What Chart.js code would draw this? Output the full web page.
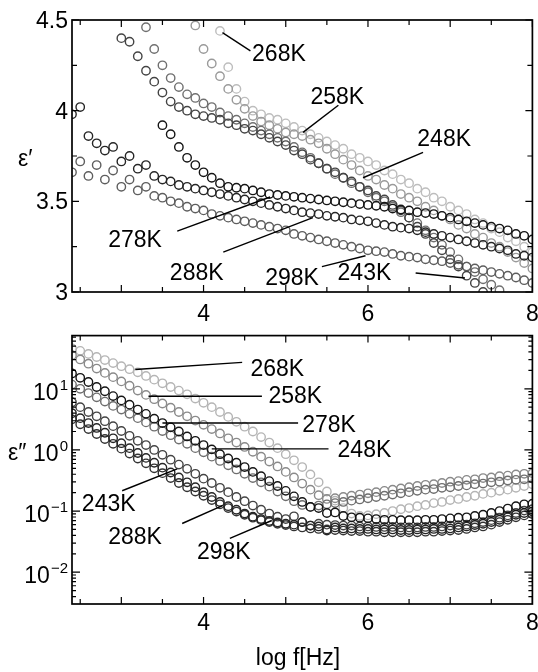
<!DOCTYPE html>
<html>
<head>
<meta charset="utf-8">
<script src="https://cdn.jsdelivr.net/npm/chart.js@4.4.1/dist/chart.umd.min.js"></script>
<style>
  html, body { margin: 0; padding: 0; background: #fff; }
  #wrap { position: relative; width: 538px; height: 672px; }
  canvas { position: absolute; left: 0; }
  #top { top: 0; }
  #bottom { top: 330px; }
</style>
</head>
<body>
<div id="wrap">
  <canvas id="top" width="538" height="330" style="width:538px;height:330px"></canvas>
  <canvas id="bottom" width="538" height="342" style="width:538px;height:342px"></canvas>
</div>
<script>
// log f [Hz], shared by every series
const logF = [
  2.4, 2.5, 2.6, 2.7, 2.8, 2.9, 3.0, 3.1, 3.2, 3.3,
  3.4, 3.5, 3.6, 3.7, 3.8, 3.9, 4.0, 4.1, 4.2, 4.3,
  4.4, 4.5, 4.6, 4.7, 4.8, 4.9, 5.0, 5.1, 5.2, 5.3,
  5.4, 5.5, 5.6, 5.7, 5.8, 5.9, 6.0, 6.1, 6.2, 6.3,
  6.4, 6.5, 6.6, 6.7, 6.8, 6.9, 7.0, 7.1, 7.2, 7.3,
  7.4, 7.5, 7.6, 7.7, 7.8, 7.9, 8.0
];

// eps' (top panel), null = off the plotted range
const real268 = [
  null, null, null, null, null, null, null, null, null, null,
  null, null, null, null, null, null, null, null, 4.44, 4.24,
  4.12, 4.05, 4.00, 3.98, 3.96, 3.95, 3.93, 3.91, 3.89, 3.87,
  3.85, 3.83, 3.81, 3.79, 3.76, 3.74, 3.72, 3.70, 3.67, 3.65,
  3.62, 3.60, 3.57, 3.55, 3.52, 3.50, 3.47, 3.45, 3.43, 3.40,
  3.38, 3.35, 3.33, 3.30, 3.28, 3.25, 3.22
];
const real258 = [
  null, null, null, null, null, null, null, null, null, null,
  null, null, null, null, null, 4.47, 4.34, 4.26, 4.19, 4.12,
  4.06, 4.01, 3.97, 3.94, 3.92, 3.90, 3.88, 3.87, 3.86, 3.84,
  3.82, 3.79, 3.76, 3.73, 3.70, 3.67, 3.64, 3.62, 3.59, 3.57,
  3.54, 3.52, 3.50, 3.47, 3.45, 3.42, 3.40, 3.37, 3.35, 3.32,
  3.30, 3.27, 3.25, 3.22, 3.19, 3.16, 3.13
];
const real248 = [
  null, null, null, null, null, null, null, null, null, 4.46,
  4.34, 4.25, 4.18, 4.13, 4.09, 4.07, 4.04, 4.02, 3.99, 3.97,
  3.95, 3.93, 3.91, 3.89, 3.87, 3.85, 3.83, 3.80, 3.77, 3.74,
  3.71, 3.68, 3.65, 3.63, 3.60, 3.58, 3.55, 3.52, 3.50, 3.47,
  3.44, 3.41, 3.38, 3.34, 3.30, 3.26, 3.22, 3.18, 3.14, 3.11,
  3.07, 3.04, 3.01, null, null, null, null
];
const real243 = [
  null, null, null, null, null, null, 4.40, 4.38, 4.30, 4.22,
  4.16, 4.10, 4.05, 4.02, 4.00, 3.98, 3.97, 3.96, 3.95, 3.93,
  3.92, 3.90, 3.89, 3.87, 3.85, 3.83, 3.81, 3.78, 3.76, 3.73,
  3.71, 3.68, 3.66, 3.63, 3.61, 3.58, 3.56, 3.53, 3.51, 3.48,
  3.45, 3.41, 3.36, 3.32, 3.27, 3.23, 3.18, 3.14, 3.09, 3.05,
  3.00, null, null, null, null, null, null
];
const real278 = [
  null, null, null, null, null, null, null, null, null, null,
  null, 3.92, 3.87, 3.80, 3.74, 3.70, 3.66, 3.63, 3.60, 3.58,
  3.575, 3.57, 3.56, 3.55, 3.54, 3.535, 3.53, 3.525, 3.52, 3.515,
  3.51, 3.505, 3.50, 3.495, 3.49, 3.485, 3.48, 3.475, 3.47, 3.46,
  3.455, 3.45, 3.44, 3.435, 3.43, 3.42, 3.41, 3.40, 3.39, 3.38,
  3.37, 3.36, 3.35, 3.34, 3.32, 3.31, 3.29
];
const real288 = [
  3.98, 4.02, 3.86, 3.82, 3.78, 3.80, 3.72, 3.75, 3.68, 3.70,
  3.64, 3.62, 3.61, 3.59, 3.58, 3.57, 3.56, 3.55, 3.54, 3.53,
  3.52, 3.51, 3.50, 3.49, 3.48, 3.47, 3.46, 3.45, 3.44, 3.435,
  3.43, 3.42, 3.415, 3.41, 3.40, 3.395, 3.39, 3.38, 3.37, 3.36,
  3.355, 3.35, 3.34, 3.33, 3.32, 3.31, 3.30, 3.29, 3.28, 3.27,
  3.26, 3.25, 3.24, 3.23, 3.21, 3.20, 3.19
];
const real298 = [
  3.66, 3.72, 3.64, 3.70, 3.62, 3.67, 3.58, 3.62, 3.56, 3.58,
  3.53, 3.52, 3.50, 3.49, 3.47, 3.46, 3.45, 3.43, 3.42, 3.41,
  3.40, 3.39, 3.38, 3.37, 3.36, 3.35, 3.34, 3.32, 3.31, 3.30,
  3.29, 3.28, 3.27, 3.26, 3.25, 3.24, 3.23, 3.225, 3.22, 3.21,
  3.20, 3.195, 3.19, 3.18, 3.175, 3.17, 3.16, 3.15, 3.14, 3.13,
  3.12, 3.11, 3.10, 3.09, 3.08, 3.065, 3.05
];

// eps'' (bottom panel, log axis)
const loss268 = [
  45.7, 41.7, 37.2, 33.1, 29.5, 26.3, 23.4, 20.9, 18.6, 16.2,
  14.1, 12.3, 10.7, 9.33, 8.13, 6.92, 5.89, 5.01, 4.17, 3.47,
  2.88, 2.40, 2.00, 1.62, 1.32, 1.07, 0.851, 0.676, 0.525, 0.398,
  0.295, 0.209, 0.148, 0.112, 0.091, 0.083, 0.085, 0.089, 0.093, 0.100,
  0.107, 0.112, 0.120, 0.126, 0.135, 0.141, 0.151, 0.158, 0.170, 0.178,
  0.191, 0.200, 0.214, 0.224, 0.240, 0.257, 0.275
];
const loss258 = [
  35.5, 30.2, 25.7, 21.4, 18.2, 15.5, 13.2, 11.2, 9.33, 7.94,
  6.76, 5.75, 4.90, 4.17, 3.55, 3.02, 2.57, 2.19, 1.86, 1.55,
  1.32, 1.12, 0.933, 0.776, 0.646, 0.537, 0.437, 0.355, 0.282, 0.224,
  0.182, 0.158, 0.162, 0.170, 0.178, 0.186, 0.195, 0.204, 0.214, 0.224,
  0.234, 0.245, 0.257, 0.269, 0.275, 0.288, 0.302, 0.309, 0.324, 0.331,
  0.347, 0.355, 0.372, 0.380, 0.398, 0.407, 0.417
];
const loss278 = [
  17.8, 15.1, 12.9, 10.7, 9.12, 7.59, 6.46, 5.50, 4.57, 3.89,
  3.24, 2.75, 2.34, 2.00, 1.66, 1.41, 1.20, 1.02, 0.851, 0.724,
  0.617, 0.525, 0.437, 0.372, 0.309, 0.257, 0.214, 0.174, 0.141, 0.117,
  0.112, 0.093, 0.095, 0.083, 0.079, 0.078, 0.076, 0.074, 0.072, 0.072,
  0.071, 0.071, 0.071, 0.072, 0.072, 0.074, 0.076, 0.078, 0.079, 0.083,
  0.087, 0.093, 0.100, 0.110, 0.120, 0.129, 0.132
];
const loss248 = [
  11.7, 10.0, 8.51, 7.24, 6.17, 5.25, 4.57, 3.89, 3.31, 2.82,
  2.40, 2.04, 1.74, 1.48, 1.26, 1.07, 0.912, 0.776, 0.661, 0.562,
  0.479, 0.407, 0.347, 0.295, 0.251, 0.209, 0.174, 0.145, 0.126, 0.117,
  0.123, 0.129, 0.135, 0.141, 0.148, 0.155, 0.162, 0.170, 0.178, 0.186,
  0.195, 0.204, 0.214, 0.224, 0.229, 0.240, 0.245, 0.257, 0.263, 0.275,
  0.282, 0.295, 0.302, 0.316, 0.324, 0.331, 0.339
];
const loss243 = [
  6.03, 5.01, 4.17, 3.55, 2.95, 2.45, 2.04, 1.70, 1.41, 1.20,
  1.00, 0.832, 0.692, 0.575, 0.490, 0.407, 0.339, 0.288, 0.240, 0.204,
  0.170, 0.145, 0.123, 0.105, 0.091, 0.081, 0.074, 0.082, 0.066, 0.058,
  0.062, 0.060, 0.059, 0.058, 0.058, 0.056, 0.056, 0.055, 0.055, 0.055,
  0.054, 0.054, 0.054, 0.055, 0.055, 0.056, 0.058, 0.059, 0.060, 0.063,
  0.066, 0.071, 0.078, 0.085, 0.093, 0.102, 0.107
];
const loss288 = [
  3.98, 3.31, 2.75, 2.29, 1.91, 1.55, 1.29, 1.07, 0.891, 0.741,
  0.617, 0.513, 0.427, 0.355, 0.295, 0.245, 0.204, 0.170, 0.141, 0.120,
  0.105, 0.091, 0.081, 0.074, 0.069, 0.065, 0.062, 0.060, 0.066, 0.058,
  0.056, 0.048, 0.054, 0.052, 0.052, 0.051, 0.051, 0.050, 0.050, 0.050,
  0.049, 0.049, 0.050, 0.050, 0.051, 0.051, 0.052, 0.054, 0.056, 0.059,
  0.062, 0.066, 0.072, 0.079, 0.087, 0.093, 0.098
];
const loss298 = [
  3.16, 2.63, 2.19, 1.82, 1.51, 1.26, 1.05, 0.871, 0.724, 0.603,
  0.501, 0.417, 0.347, 0.288, 0.245, 0.209, 0.178, 0.151, 0.129, 0.112,
  0.098, 0.087, 0.078, 0.071, 0.066, 0.062, 0.059, 0.056, 0.054, 0.052,
  0.051, 0.050, 0.049, 0.048, 0.047, 0.047, 0.046, 0.046, 0.045, 0.045,
  0.045, 0.045, 0.045, 0.046, 0.046, 0.047, 0.048, 0.049, 0.051, 0.054,
  0.056, 0.060, 0.066, 0.072, 0.079, 0.085, 0.089
];

// axis labels
const realTickVals = [3, 3.5, 4, 4.5];
const realTickText = ['3', '3.5', '4', '4.5'];
const lossDecades = [0.01, 0.1, 1, 10];
const lossExp = ['\u22122', '\u22121', '0', '1'];
const freqTickVals = [4, 6, 8];

// leader labels: [text, textX, textY, lineX1, lineY1, lineX2, lineY2] in data units
const realNotes = [
  ['268K', 4.59, 4.32, 4.23, 4.43, 4.57, 4.33],
  ['258K', 5.30, 4.08, 5.64, 4.03, 5.21, 3.88],
  ['248K', 6.60, 3.85, 6.67, 3.77, 5.94, 3.63],
  ['278K', 2.84, 3.29, 3.68, 3.336, 4.81, 3.524],
  ['288K', 3.59, 3.11, 4.24, 3.22, 5.33, 3.41],
  ['298K', 4.75, 3.08, 5.44, 3.14, 5.97, 3.20],
  ['243K', 5.63, 3.11, 6.58, 3.105, 7.18, 3.077]
];
const lossNotes = [
  ['268K', 4.57, 21.5, 3.17, 20.7, 4.47, 27.0],
  ['258K', 4.79, 7.84, 3.33, 7.55, 4.71, 7.55],
  ['278K', 5.20, 2.65, 3.50, 2.75, 5.15, 2.75],
  ['248K', 5.63, 1.04, 4.10, 1.04, 5.52, 1.04],
  ['243K', 2.52, 0.137, 3.01, 0.215, 3.68, 0.491],
  ['288K', 2.84, 0.0385, 3.74, 0.0626, 4.23, 0.123],
  ['298K', 3.92, 0.0219, 4.32, 0.0357, 4.83, 0.0701]
];

const FONT = '"Liberation Sans", Arial, Helvetica, sans-serif';
const FS = 23;

function pts(ys) {
  return logF.map((x, i) => ({ x: x, y: ys[i] })).filter(p => p.y !== null);
}

function makeSets(list) {
  return list.map(s => ({
    label: s[0],
    data: pts(s[1]),
    showLine: false,
    pointStyle: 'circle',
    pointRadius: 4.2,
    pointBorderWidth: 1.4,
    pointBorderColor: s[2],
    pointBackgroundColor: 'rgba(0,0,0,0)'
  }));
}

function framePlugin(opt) {
  return {
    id: 'frame',
    afterDraw(chart) {
      const ctx = chart.ctx;
      const a = chart.chartArea;
      const xs = chart.scales.x;
      const ys = chart.scales.y;
      ctx.save();
      ctx.strokeStyle = '#000';
      ctx.fillStyle = '#000';

      // inward ticks on all four sides
      ctx.lineWidth = 1.2;
      ctx.beginPath();
      for (let v = 2.5; v <= 8.001; v += 0.5) {
        const px = xs.getPixelForValue(v);
        const len = Math.abs(v - Math.round(v)) < 0.01 ? 7 : 5;
        ctx.moveTo(px, a.bottom); ctx.lineTo(px, a.bottom - len);
        ctx.moveTo(px, a.top); ctx.lineTo(px, a.top + len);
      }
      opt.yTicks(ys).forEach(t => {
        const py = ys.getPixelForValue(t[0]);
        ctx.moveTo(a.left, py); ctx.lineTo(a.left + t[1], py);
        ctx.moveTo(a.right, py); ctx.lineTo(a.right - t[1], py);
      });
      ctx.stroke();

      ctx.lineWidth = 1.7;
      ctx.strokeRect(a.left, a.top, a.right - a.left, a.bottom - a.top);

      // x tick labels
      ctx.font = FS + 'px ' + FONT;
      ctx.textAlign = 'center';
      ctx.textBaseline = 'alphabetic';
      freqTickVals.forEach(v => {
        ctx.fillText(String(v), xs.getPixelForValue(v), a.bottom + opt.xLabelGap);
      });

      // y tick labels
      opt.yLabels(ctx, ys, a);

      // y title (horizontal)
      ctx.font = FS + 'px ' + FONT;
      ctx.textAlign = 'left';
      ctx.fillText(opt.yTitle, opt.yTitlePos[0], opt.yTitlePos[1]);

      if (opt.xTitle) {
        ctx.textAlign = 'center';
        ctx.fillText(opt.xTitle, opt.xTitlePos[0], opt.xTitlePos[1]);
      }

      // temperature labels with leader lines
      ctx.lineWidth = 1.4;
      ctx.textAlign = 'left';
      opt.notes.forEach(n => {
        ctx.beginPath();
        ctx.moveTo(xs.getPixelForValue(n[3]), ys.getPixelForValue(n[4]));
        ctx.lineTo(xs.getPixelForValue(n[5]), ys.getPixelForValue(n[6]));
        ctx.stroke();
        ctx.fillText(n[0], xs.getPixelForValue(n[1]), ys.getPixelForValue(n[2]) + 8);
      });
      ctx.restore();
    }
  };
}

function baseOptions(yScale, xHeight, padTop) {
  return {
    responsive: false,
    animation: false,
    devicePixelRatio: 1,
    events: [],
    layout: { padding: { top: padTop, right: 5, left: 0, bottom: 0 } },
    plugins: { legend: { display: false }, tooltip: { enabled: false } },
    scales: {
      x: {
        type: 'linear', min: 2.4, max: 8, bounds: 'data',
        grid: { display: false }, border: { display: false },
        ticks: { display: false },
        afterFit: s => { s.height = xHeight; }
      },
      y: Object.assign({
        grid: { display: false }, border: { display: false },
        ticks: { display: false },
        afterFit: s => { s.width = 72; }
      }, yScale)
    }
  };
}

// top panel: eps'
new Chart(document.getElementById('top'), {
  type: 'scatter',
  data: {
    datasets: makeSets([
      ['278K', real278, '#151515'],
      ['288K', real288, '#262626'],
      ['243K', real243, '#444444'],
      ['298K', real298, '#5e5e5e'],
      ['248K', real248, '#707070'],
      ['258K', real258, '#9a9a9a'],
      ['268K', real268, '#bdbdbd']
    ])
  },
  options: baseOptions({ type: 'linear', min: 3, max: 4.5, bounds: 'data' }, 38, 20),
  plugins: [framePlugin({
    xLabelGap: 29,
    yTitle: '\u03b5\u2032',
    yTitlePos: [18, 166],
    notes: realNotes,
    yTicks: () => {
      const out = [];
      for (let v = 3; v <= 4.501; v += 0.25) out.push([v, Math.abs(v * 2 - Math.round(v * 2)) < 0.01 ? 7 : 5]);
      return out;
    },
    yLabels: (ctx, ys, a) => {
      ctx.textAlign = 'right';
      realTickVals.forEach((v, i) => {
        ctx.fillText(realTickText[i], a.left - 4, ys.getPixelForValue(v) + 8);
      });
    }
  })]
});

// bottom panel: eps''
new Chart(document.getElementById('bottom'), {
  type: 'scatter',
  data: {
    datasets: makeSets([
      ['278K', loss278, '#151515'],
      ['288K', loss288, '#262626'],
      ['298K', loss298, '#333333'],
      ['243K', loss243, '#444444'],
      ['248K', loss248, '#6e6e6e'],
      ['258K', loss258, '#8a8a8a'],
      ['268K', loss268, '#b5b5b5']
    ])
  },
  options: baseOptions({ type: 'logarithmic', min: 0.00302, max: 74.1, bounds: 'data' }, 68, 4),
  plugins: [framePlugin({
    xLabelGap: 26,
    yTitle: '\u03b5\u2033',
    yTitlePos: [8, 130],
    xTitle: 'log f[Hz]',
    xTitlePos: [298, 335],
    notes: lossNotes,
    yTicks: ys => {
      const out = [];
      for (let d = -3; d <= 1; d++) {
        for (let m = 1; m <= 9; m++) {
          const v = m * Math.pow(10, d);
          if (v >= ys.min && v <= ys.max) out.push([v, m === 1 ? 8 : 4]);
        }
      }
      return out;
    },
    yLabels: (ctx, ys, a) => {
      lossDecades.forEach((v, i) => {
        const py = ys.getPixelForValue(v);
        ctx.font = '15px ' + FONT;
        ctx.textAlign = 'right';
        const ew = ctx.measureText(lossExp[i]).width;
        ctx.fillText(lossExp[i], a.left - 4, py + 1);
        ctx.font = FS + 'px ' + FONT;
        ctx.fillText('10', a.left - 5 - ew, py + 11);
      });
    }
  })]
});
</script>
</body>
</html>
